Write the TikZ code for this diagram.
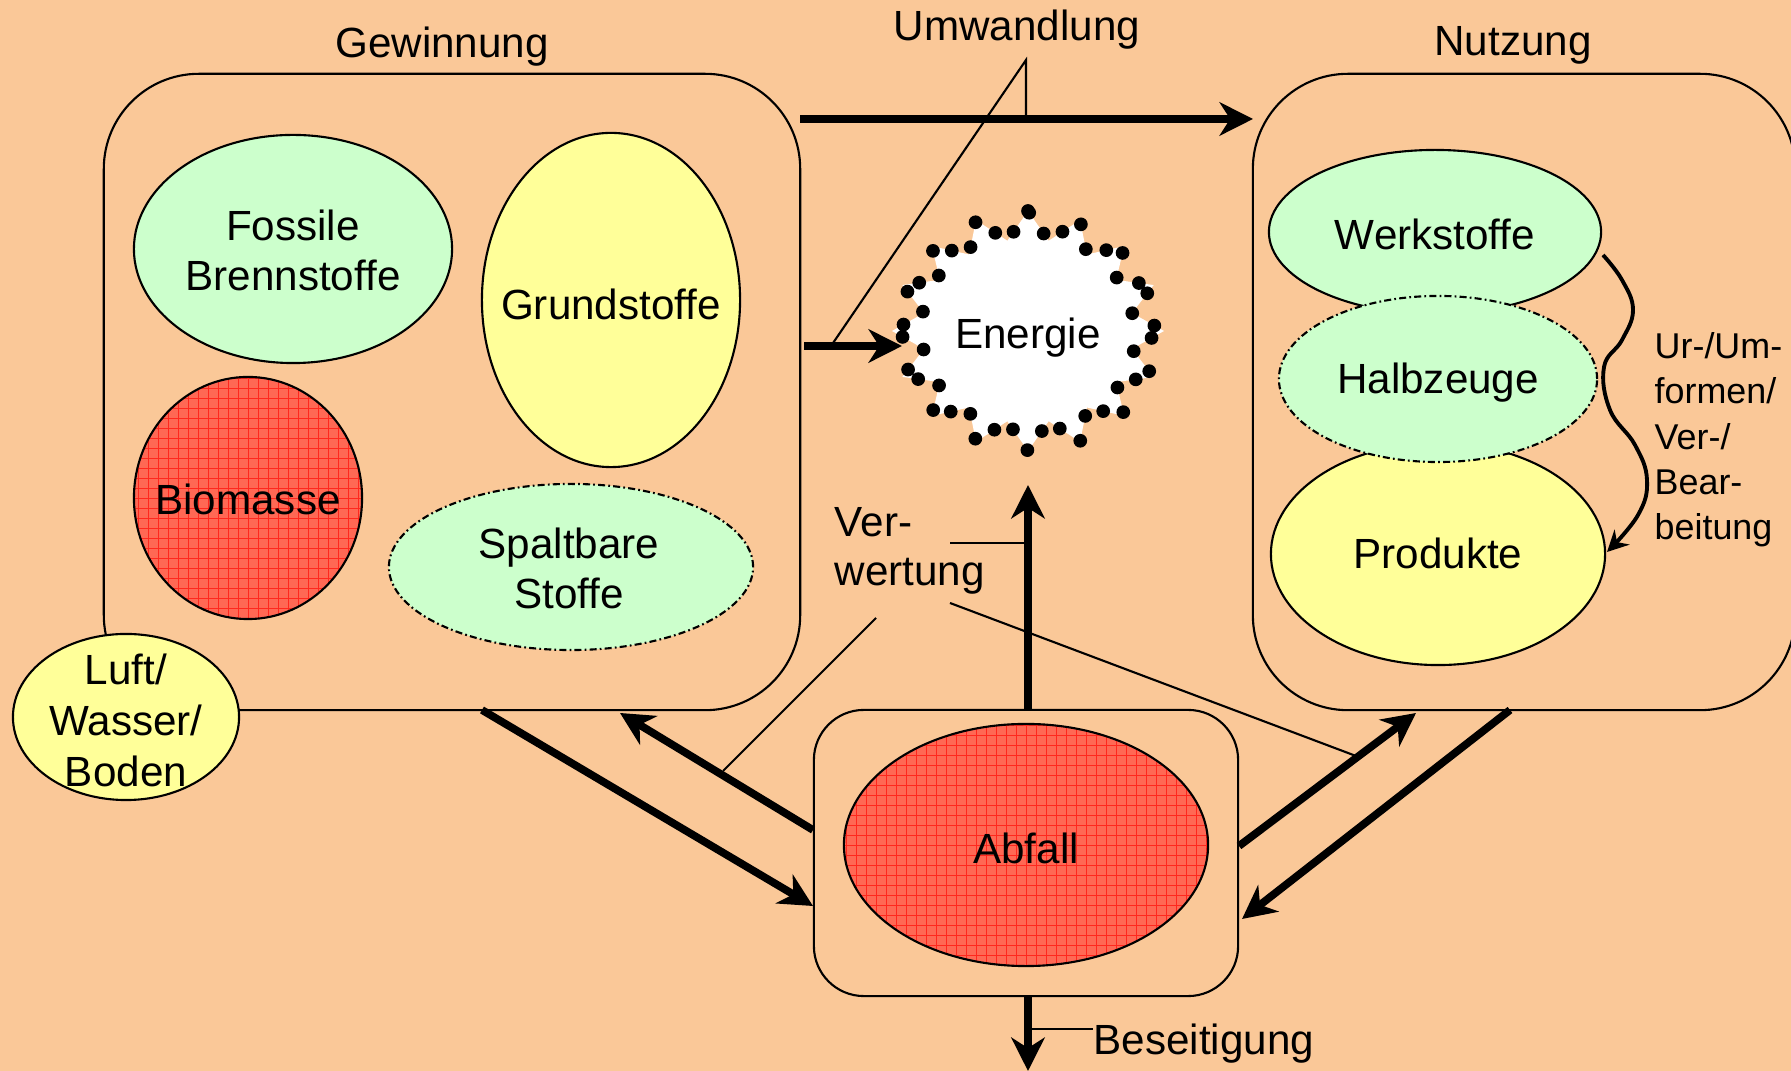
\documentclass[tikz,border=0pt]{standalone}
\usepackage{fontspec}
\setmainfont{Liberation Sans}
\usetikzlibrary{arrows.meta,shapes.geometric}
\definecolor{bg}{RGB}{250,200,152}
\definecolor{lgreen}{RGB}{204,255,204}
\definecolor{lyellow}{RGB}{255,255,153}
\definecolor{redfill}{RGB}{255,104,84}
\definecolor{redgrid}{RGB}{255,40,30}
\begin{document}
\begin{tikzpicture}[x=0.01cm,y=-0.01cm,
  every node/.style={font=\fontsize{12}{14.2}\selectfont, inner sep=0pt, align=center},
  bigbox/.style={draw, line width=0.6pt, fill=bg, rectangle, rounded corners=9.5mm},
  oval/.style={ellipse, draw, line width=0.6pt},
  greenoval/.style={oval, fill=lgreen},
  yellowoval/.style={oval, fill=lyellow},
  redoval/.style={oval, fill=redfill, path picture={\draw[redgrid, line width=0.2pt] (path picture bounding box.south west) grid[step=1mm] (path picture bounding box.north east);}},
  dashoval/.style={dash pattern=on 2pt off 0.9pt on 0.5pt off 0.9pt},
  bigarrow/.style={line width=2.2pt, -{Stealth[length=9.5pt,width=9.5pt,inset=3pt]}},
  thinline/.style={line width=0.6pt},
]
\useasboundingbox (0,0) rectangle (1791,1071);
\clip (0,0) rectangle (1791,1071);
\fill[bg] (0,0) rectangle (1791,1071);

% boxes
\node[bigbox, minimum width=69.6mm, minimum height=63.6mm] (gew) at (452,392) {};
\node[bigbox, minimum width=54.2mm, minimum height=63.6mm] (nutz) at (1524,392) {};
\node[bigbox, rounded corners=5mm, minimum width=42.4mm, minimum height=28.6mm] (abfbox) at (1026,853) {};

% titles
\node (tgew) at (442,47) {Gewinnung};
\node (tumw) at (1017,30) {Umwandlung};
\node (tnutz) at (1513,45) {Nutzung};

% Gewinnung ellipses
\node[greenoval, minimum width=31.8mm, minimum height=22.8mm] (fos) at (293,249) {};
\node (fostxt) at (293,250) {Fossile\\Brennstoffe};
\node[yellowoval, minimum width=25.8mm, minimum height=33.4mm] (grund) at (611,300) {};
\node (grundtxt) at (611,304) {Grundstoffe};
\node[redoval, minimum width=22.8mm, minimum height=24.2mm] (bio) at (248,498) {};
\node (biotxt) at (248,499) {Biomasse};
\node[greenoval, dashoval, minimum width=36.4mm, minimum height=16.6mm] (spalt) at (571,567) {};
\node (spalttxt) at (569,568) {Spaltbare\\Stoffe};
\node[yellowoval, minimum width=22.6mm, minimum height=16.6mm] (luft) at (126,717) {};
\node[font=\fontsize{12}{14.5}\selectfont] (lufttxt) at (126,720) {Luft/\\Wasser/\\Boden};

% Nutzung ellipses
\node[greenoval, minimum width=33.2mm, minimum height=16.4mm] (werk) at (1435,232) {};
\node (werktxt) at (1435,234) {Werkstoffe};
\node[yellowoval, minimum width=33.4mm, minimum height=22.2mm] (prod) at (1438,554) {};
\node (prodtxt) at (1438,553) {Produkte};
\node[greenoval, dashoval, minimum width=31.8mm, minimum height=16.6mm] (halb) at (1438,379) {};
\node (halbtxt) at (1438,383) {Halbzeuge};

% Abfall
\node[redoval, minimum width=36.4mm, minimum height=24.2mm] (abf) at (1026,845) {};
\node (abftxt) at (1026,848) {Abfall};

% Energie starburst
\path[fill=white, draw=black, line width=3.9pt, line cap=round, dash pattern=on 0pt off 7.2pt]
  plot[samples at={0,...,31}] ({1028+ifthenelse(mod(\x,2)==0,136,106)*cos(90+\x*11.25)}, {331-ifthenelse(mod(\x,2)==0,120,92)*sin(90+\x*11.25)}) -- cycle;
\node (energie) at (1028,338) {Energie};

% coordinates for connectors
\coordinate (gewtop) at (800,119);
\coordinate (nutztop) at (1253,119);
\coordinate (gewmid) at (804,346);
\coordinate (enleft) at (902,346);
\coordinate (abftop) at (1028,710);
\coordinate (enbot) at (1028,485);
\coordinate (gewbot) at (482,710);
\coordinate (abfleft1) at (813,906);
\coordinate (abfleft2) at (813,830);
\coordinate (gewbot2) at (620,713);
\coordinate (abfright1) at (1239,846);
\coordinate (nutzbot1) at (1416,713);
\coordinate (nutzbot2) at (1510,710);
\coordinate (abfright2) at (1242,919);
\coordinate (abfbot) at (1028,996);
\coordinate (outbot) at (1028,1071);

% thick arrows
\draw[bigarrow] (gewtop) -- (nutztop);
\draw[bigarrow] (gewmid) -- (enleft);
\draw[bigarrow] (abftop) -- (enbot);
\draw[bigarrow] (gewbot) -- (abfleft1);
\draw[bigarrow] (abfleft2) -- (gewbot2);
\draw[bigarrow] (abfright1) -- (nutzbot1);
\draw[bigarrow] (nutzbot2) -- (abfright2);
\draw[bigarrow] (abfbot) -- (outbot);

% Umwandlung leader lines
\coordinate (umwpeak) at (1026,60);
\coordinate (umwfoot) at (1026,119);
\coordinate (umwdiag) at (831,346);
\draw[thinline] (umwfoot) -- (umwpeak) -- (umwdiag);

% Verwertung label and leaders
\node[anchor=west, align=left, font=\fontsize{12}{14}\selectfont] (verw) at (834,551) {Ver-\\wertung};
\coordinate (vh1) at (950,543); \coordinate (vh2) at (1027,543);
\coordinate (vl1) at (876,618); \coordinate (vl2) at (723,771);
\coordinate (vr1) at (950,603); \coordinate (vr2) at (1356,756);
\draw[thinline] (vh1) -- (vh2);
\draw[thinline] (vl1) -- (vl2);
\draw[thinline] (vr1) -- (vr2);

% Beseitigung
\node[anchor=west] (beseit) at (1093,1044) {Beseitigung};
\coordinate (bs1) at (1028,1029);
\draw[thinline] (bs1) -- (beseit.west |- bs1);

% Ur-/Umformen
\draw[line width=1.1pt, -{Stealth[length=6pt,width=6pt,inset=2pt]}]
  plot[smooth, tension=0.7] coordinates {(1603,255) (1622,280) (1633,310) (1622,340) (1604,367) (1610,410) (1635,445) (1647,480) (1638,515) (1607,552)};
\node[anchor=west, align=left, font=\fontsize{10.2}{12.9}\selectfont] (urum) at (1654,440) {Ur-/Um-\\formen/\\Ver-/\\Bear-\\beitung};
\end{tikzpicture}
\end{document}
